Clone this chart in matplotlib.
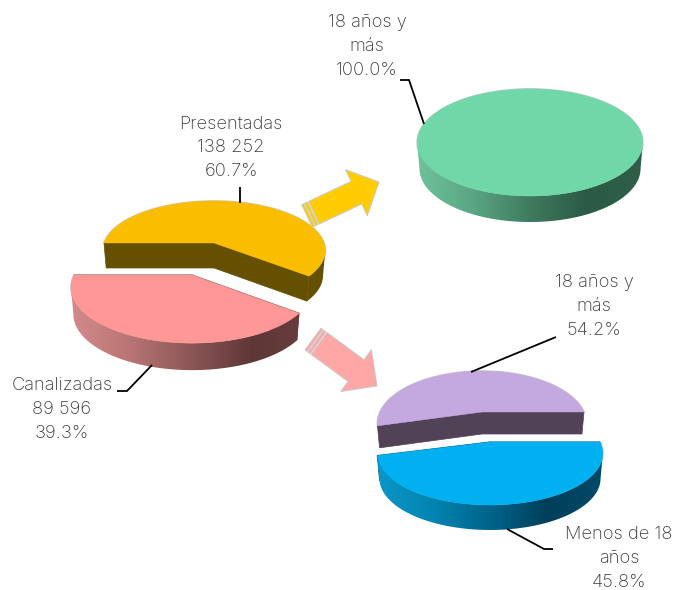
import numpy as np
import matplotlib
matplotlib.use("Agg")
import matplotlib.pyplot as plt
from matplotlib.colors import LinearSegmentedColormap
from matplotlib.patches import Polygon

# Values
first_labels = ["Presentadas", "Canalizadas"]
first_counts = ["138 252", "89 596"]
first_shares = [60.7, 39.3]

presented_labels = ["18 años y\nmás"]
presented_shares = [100.0]

channeled_labels = ["18 años y\nmás", "Menos de 18\naños"]
channeled_shares = [54.2, 45.8]

# perspective of the pie plane
PERSP = 0.222
BOTTOM_SCALE = 0.98
EDGE = "#c9c9c9"

plt.rcParams['font.family'] = ['Inter', 'DejaVu Sans']
plt.rcParams['font.weight'] = 'light'

fig = plt.figure(figsize=(6.77, 5.90), dpi=100)
ax = fig.add_axes([0, 0, 1, 1])


def project(cx, cy, rx, ry, theta, persp):
    u, v = np.cos(theta), np.sin(theta)
    w = 1 + persp * v
    return cx + rx * u / w, cy - ry * v / w


def draw_slice(cx, cy, rx, ry, depth, start, share, top, side, rim_stops, persp=PERSP):
    # start in degrees, counterclockwise seen from above, share in percent
    theta = np.radians(np.linspace(start, start + share * 3.6, 361))
    x, y = project(cx, cy, rx, ry, theta, persp)
    low_x = cx + (x - cx) * BOTTOM_SCALE
    low_y = y + depth

    full = share >= 100
    if full:
        outline = np.column_stack([x, y])
    else:
        outline = np.vstack([[cx, cy], np.column_stack([x, y])])
    # grey line only shows on the back, the rim covers it in front
    ax.add_patch(Polygon(outline, closed=True, fc='none', ec=EDGE, lw=1.2, zorder=2))

    if not full:
        # flat cut faces, hidden by the top where they point backwards
        for i in (0, -1):
            ax.add_patch(Polygon([(cx, cy), (x[i], y[i]), (low_x[i], low_y[i]), (cx, cy + depth)],
                                 closed=True, fc=side, ec=side, lw=0.5, zorder=3))

    # rim, a horizontal gradient clipped to the part of the wall that faces us
    front = np.where(np.diff(x) > 0)[0]
    if len(front) > 1:
        a, b = front[0], front[-1] + 2
        cmap = LinearSegmentedColormap.from_list("rim", rim_stops)
        strip = np.vstack([np.column_stack([x[a:b], y[a:b]]),
                           np.column_stack([low_x[a:b], low_y[a:b]])[::-1]])
        clip = Polygon(strip, closed=True, transform=ax.transData)
        img = ax.imshow(np.linspace(0, 1, 256)[None, :], cmap=cmap, aspect='auto', interpolation='bilinear',
                        extent=(cx - rx * 1.03, cx + rx * 1.03, y.max() + depth + 2, y.min() - 2), zorder=3)
        img.set_clip_path(clip)

    ax.add_patch(Polygon(outline, closed=True, fc=top, ec=top, lw=0.3, zorder=4))


def draw_arrow(tail, tip, shaft_w, head_w, head_l, color):
    tail, tip = np.array(tail, float), np.array(tip, float)
    d = (tip - tail) / np.hypot(*(tip - tail))
    n = np.array([-d[1], d[0]])
    neck = tip - d * head_l
    # two thin stripes at the tail, then the arrow body
    for a, b in [(0, 2.6), (3.6, 6.4)]:
        p, q = tail + d * a, tail + d * b
        ax.add_patch(Polygon([p + n * shaft_w / 2, q + n * shaft_w / 2, q - n * shaft_w / 2, p - n * shaft_w / 2],
                             closed=True, fc=color, ec=EDGE, lw=0.6, zorder=5))
    body = tail + d * 7.6
    pts = [body + n * shaft_w / 2, neck + n * shaft_w / 2, neck + n * head_w / 2, tip,
           neck - n * head_w / 2, neck - n * shaft_w / 2, body - n * shaft_w / 2]
    ax.add_patch(Polygon(pts, closed=True, fc=color, ec=EDGE, lw=0.7, zorder=5))


def leader(xs, ys):
    ax.plot(xs, ys, color='black', lw=1.3, solid_capstyle='butt', solid_joinstyle='miter', zorder=6)


def label(x, y, text):
    ax.text(x, y, text, ha='center', va='center', fontsize=13.2, linespacing=1.53,
            color='#3a3a3a', zorder=7)


# first pie, pulled apart
pink_rim = ["#d58a8a", "#b87474", "#8a5656", "#5f3636", "#6a3e3e"]
orange_rim = ["#655000", "#655000"]
draw_slice(192, 275, 118, 53, 27, 180, first_shares[1], "#ff9797", "#6a3e3e", pink_rim)
draw_slice(214, 243, 110, 48.3, 25, 180 + first_shares[1] * 3.6, first_shares[0], "#fbbd00", "#655000", orange_rim,
           persp=0.15)

# pie of the presented ones
green_rim = ["#6fc29c", "#5aa583", "#3f7a5f", "#2b5a45", "#2f5f49"]
draw_slice(530, 130.6, 110, 50.9, 26, 0, presented_shares[0], "#70d8a8", "#2f5f49", green_rim)

# pie of the channeled ones
purple_rim = ["#524258", "#524258"]
blue_rim = ["#0a97c8", "#0284b0", "#00638a", "#003f5a", "#004a68"]
draw_slice(482, 412, 102, 50, 22, 0, channeled_shares[0], "#c4a8e0", "#524258", purple_rim)
draw_slice(490, 442, 110, 49, 25, channeled_shares[0] * 3.6, channeled_shares[1], "#00b0f0", "#004a68", blue_rim)

draw_arrow((307, 216), (379, 182), 25, 51, 25, "#ffcc00")
draw_arrow((313, 339), (377, 386), 27, 52, 26, "#ffa6a6")

leader([240, 240], [187, 203])
leader([400, 409, 424], [80, 80, 124])
leader([117, 127, 152], [391, 391, 365])
leader([471, 556], [372, 337])
leader([507, 544, 553], [529, 549, 549])

label(231, 148, f"{first_labels[0]}\n{first_counts[0]}\n{first_shares[0]}%")
label(62, 409.5, f"{first_labels[1]}\n{first_counts[1]}\n{first_shares[1]}%")
label(367, 46.5, f"{presented_labels[0]}\n{presented_shares[0]}%")
label(594, 306.5, f"{channeled_labels[0]}\n{channeled_shares[0]}%")
label(619, 558.5, f"{channeled_labels[1]}\n{channeled_shares[1]}%")

# imshow resets the limits, so they go last
ax.set_xlim(0, 677)
ax.set_ylim(590, 0)
ax.axis('off')

fig.savefig("out.png", dpi=100)
